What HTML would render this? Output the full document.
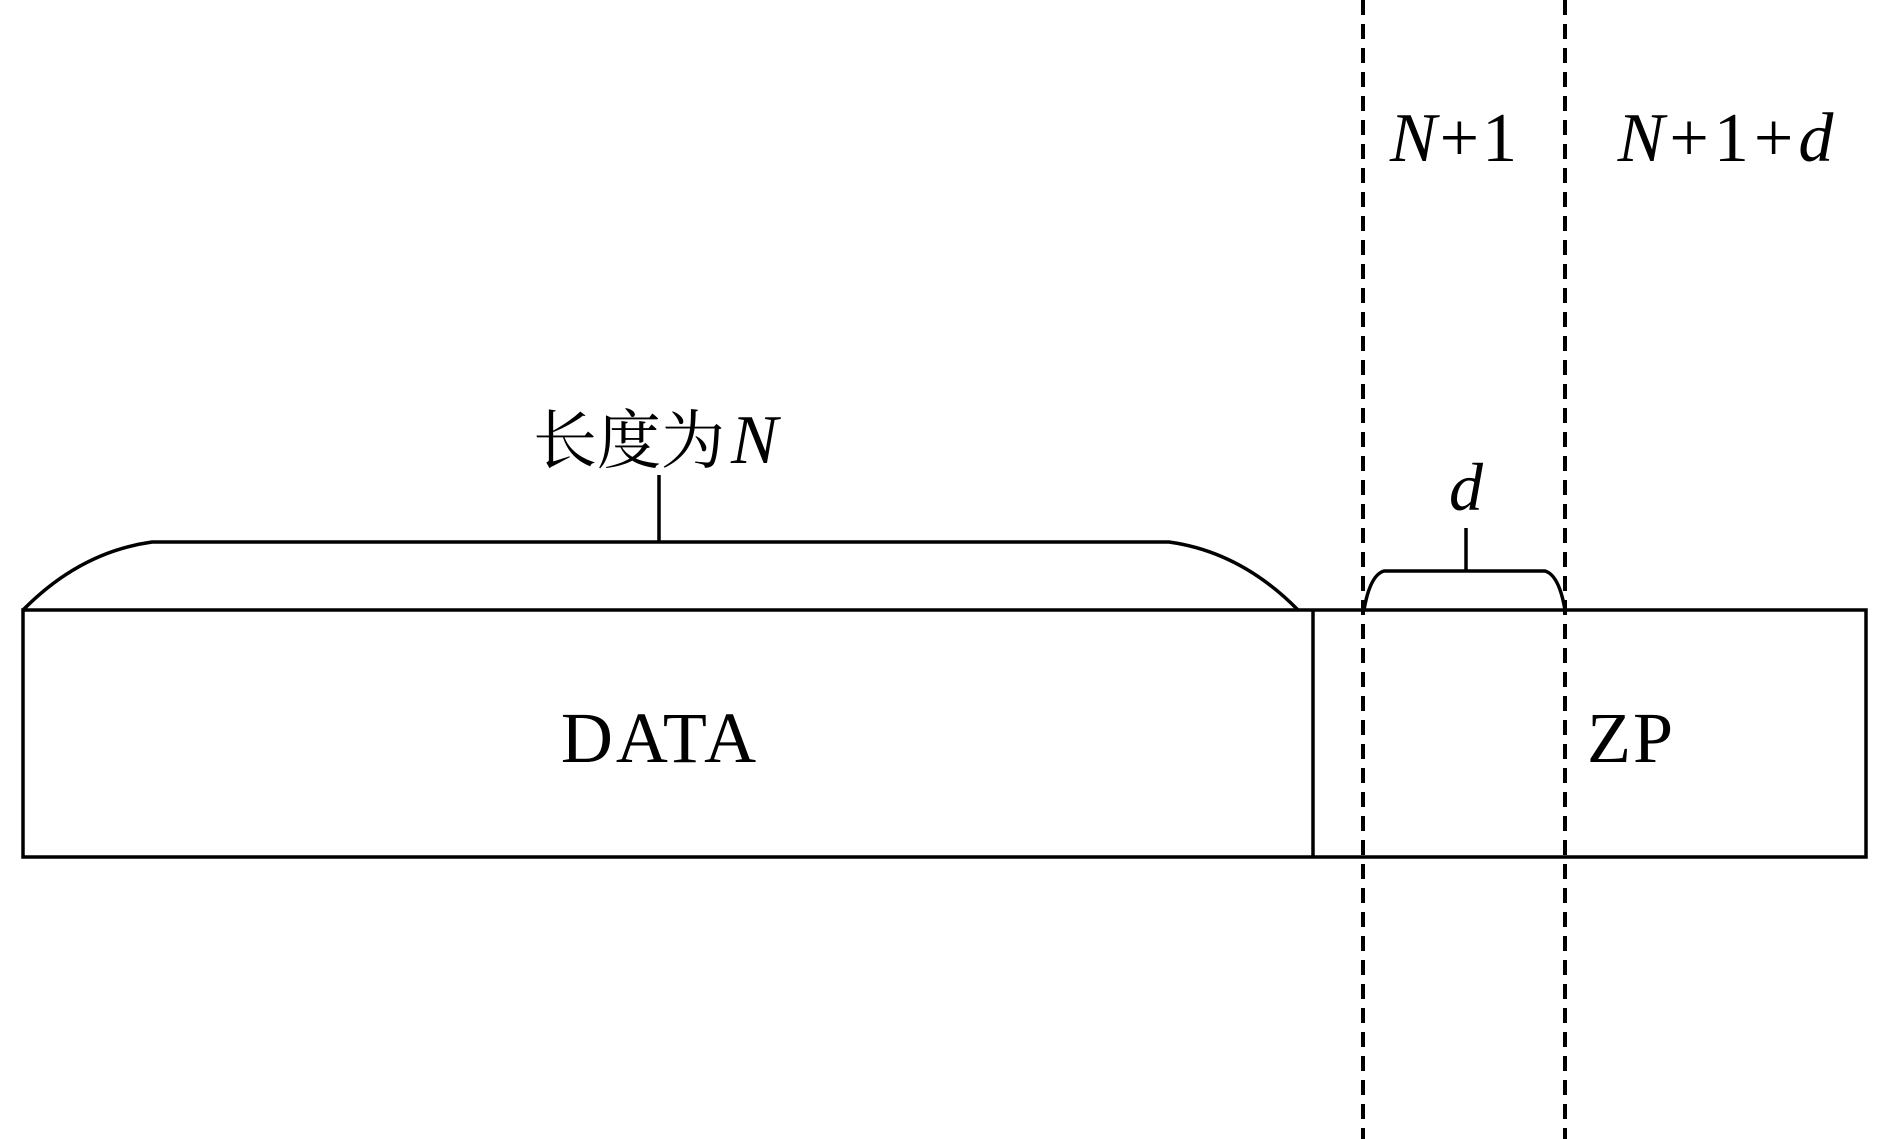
<!DOCTYPE html>
<html><head><meta charset="utf-8"><style>
html,body{margin:0;padding:0;background:#fff;}
svg{display:block;}
text{font-family:"Liberation Serif","Noto Serif CJK SC",serif;fill:#000;}
</style></head><body>
<svg width="1890" height="1139" viewBox="0 0 1890 1139" xmlns="http://www.w3.org/2000/svg">
<g fill="none" stroke="#000" stroke-width="3.5">
<rect x="23" y="610" width="1843" height="247"/>
<line x1="1313" y1="610" x2="1313" y2="857"/>
<path d="M23,610 Q80,552 152,542 L1169,542 Q1241,552 1298,610"/>
<line x1="659" y1="542" x2="659" y2="475"/>
<path d="M1364,610 Q1370,575 1384,571 L1545,571 Q1559,575 1565,610"/>
<line x1="1466" y1="571" x2="1466" y2="528"/>
<line x1="1363" y1="0" x2="1363" y2="1139" stroke-width="4" stroke-dasharray="15,9"/>
<line x1="1565" y1="0" x2="1565" y2="1139" stroke-width="4" stroke-dasharray="15,9"/>
</g>
<text x="533" y="463" font-size="64">长度为<tspan font-style="italic" font-size="70" dx="6">N</tspan></text>
<text x="660" y="762" font-size="72" letter-spacing="3" text-anchor="middle">DATA</text>
<text x="1631" y="762" font-size="72" letter-spacing="2" text-anchor="middle">ZP</text>
<text x="1466" y="510" font-size="68" font-style="italic" text-anchor="middle">d</text>
<text x="1455" y="161" font-size="70" letter-spacing="3" text-anchor="middle"><tspan font-style="italic">N</tspan>+1</text>
<text x="1728" y="161" font-size="70" letter-spacing="5" text-anchor="middle"><tspan font-style="italic">N</tspan>+1+<tspan font-style="italic">d</tspan></text>
</svg>
</body></html>
